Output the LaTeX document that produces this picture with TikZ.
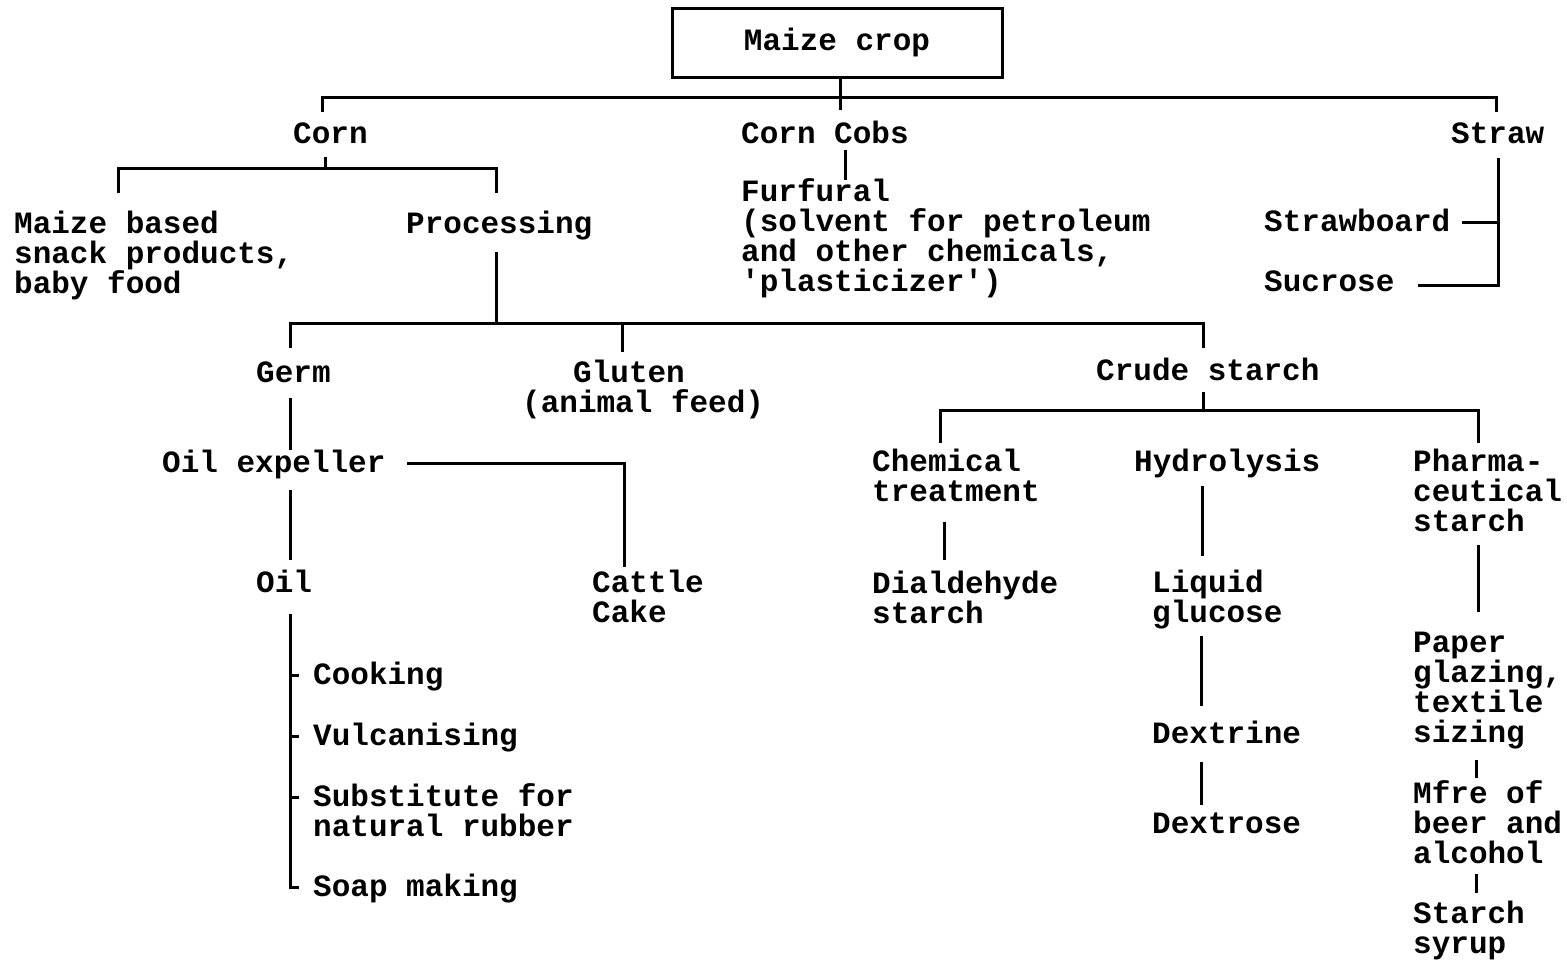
\documentclass[tikz,border=0pt]{standalone}
\usepackage{fontspec}
\setmainfont{Liberation Mono}[Ligatures=TeXOff]
\begin{document}
\begin{tikzpicture}[x=1pt,y=-1pt,
  lbl/.style={anchor=base west, inner sep=0pt, align=left, font=\bfseries\fontsize{31}{30}\selectfont},
  conn/.style={draw, line width=3pt, line join=miter}]
\useasboundingbox (0,0) rectangle (1567,959);
% top box
\node[draw, line width=3pt, minimum width=330pt, minimum height=69pt, inner sep=0pt, font=\bfseries\fontsize{31}{30}\selectfont] (crop) at (837,42.5) {Maize crop};
% labels (anchor = baseline of the last line)
\node[lbl] (corn) at (293,143) {Corn};
\node[lbl] (cobs) at (741,143) {Corn Cobs};
\node[lbl] (straw) at (1451,143) {Straw};
\node[lbl] (snack) at (14,293) {Maize based\\snack products,\\baby food};
\node[lbl] (proc) at (406,233) {Processing};
\node[lbl] (furf) at (741,291) {Furfural\\(solvent for petroleum\\and other chemicals,\\'plasticizer')};
\node[lbl] (sboard) at (1264,231) {Strawboard};
\node[lbl] (sucr) at (1264,291) {Sucrose};
\node[lbl] (germ) at (256,382) {Germ};
\node[lbl] (glut) at (573,382) {Gluten};
\node[lbl] (feed) at (522,412) {(animal feed)};
\node[lbl] (crude) at (1096,380) {Crude starch};
\node[lbl] (oilexp) at (162,472) {Oil expeller};
\node[lbl] (cattle) at (592,622) {Cattle\\Cake};
\node[lbl] (oil) at (256,592) {Oil};
\node[lbl] (cook) at (313,684) {Cooking};
\node[lbl] (vulc) at (313,745) {Vulcanising};
\node[lbl] (subst) at (313,836) {Substitute for\\natural rubber};
\node[lbl] (soap) at (313,896) {Soap making};
\node[lbl] (chem) at (872,501) {Chemical\\treatment};
\node[lbl] (hydro) at (1134,471) {Hydrolysis};
\node[lbl] (pharma) at (1413,531) {Pharma-\\ceutical\\starch};
\node[lbl] (dial) at (872,623) {Dialdehyde\\starch};
\node[lbl] (liq) at (1152,622) {Liquid\\glucose};
\node[lbl] (dextrine) at (1152,743) {Dextrine};
\node[lbl] (dextrose) at (1152,833) {Dextrose};
\node[lbl] (paper) at (1413,742) {Paper\\glazing,\\textile\\sizing};
\node[lbl] (mfre) at (1413,863) {Mfre of\\beer and\\alcohol};
\node[lbl] (syrup) at (1413,953) {Starch\\syrup};
% junction coordinates
\coordinate (top) at (840,97);
% connectors
\draw[conn] (crop.south -| top) -- (top) -- (840,110);
\draw[conn] (322,112) -- (322,97) -- (1496,97) -- (1496,112);
\draw[conn] (325,157) -- (325,168);
\draw[conn] (118,193) -- (118,168) -- (496,168) -- (496,193);
\draw[conn] (845,150) -- (845,180);
\draw[conn] (1498,158) -- (1498,285) -- (1418,285);
\draw[conn] (1462,222) -- (1498,222);
\draw[conn] (496,252) -- (496,323);
\draw[conn] (290,348) -- (290,323) -- (1203,323) -- (1203,348);
\draw[conn] (622,323) -- (622,352);
\draw[conn] (290,398) -- (290,450);
\draw[conn] (407,463) -- (624,463) -- (624,567);
\draw[conn] (290,490) -- (290,560);
\draw[conn] (290,614) -- (290,887) -- (299,887);
\draw[conn] (290,675) -- (299,675);
\draw[conn] (290,736) -- (299,736);
\draw[conn] (290,797) -- (299,797);
\draw[conn] (1203,392) -- (1203,410);
\draw[conn] (940,443) -- (940,410) -- (1478,410) -- (1478,443);
\draw[conn] (944,522) -- (944,560);
\draw[conn] (1202,486) -- (1202,556);
\draw[conn] (1201,636) -- (1201,706);
\draw[conn] (1201,762) -- (1201,805);
\draw[conn] (1478,545) -- (1478,612);
\draw[conn] (1476,760) -- (1476,778);
\draw[conn] (1476,874) -- (1476,893);
\end{tikzpicture}
\end{document}
